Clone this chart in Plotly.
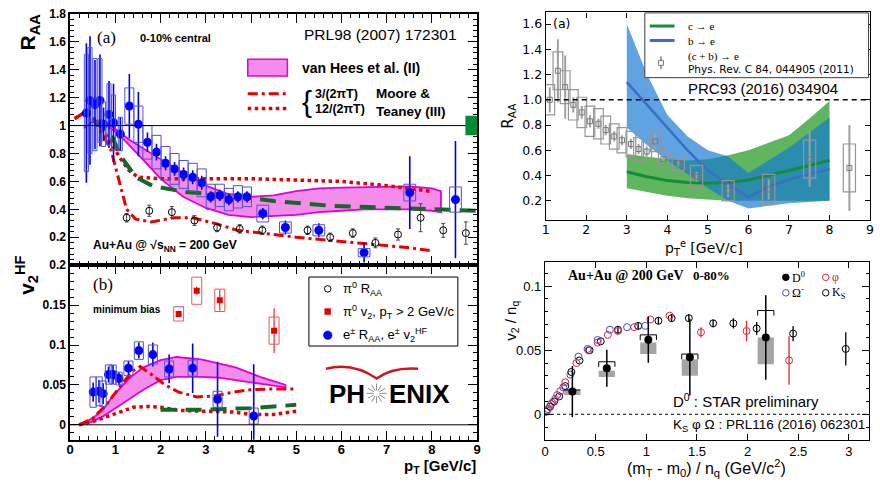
import math
import plotly.graph_objects as go

W, H = 880, 484
def px(x): return x / W
def py(y): return 1 - y / H

SANS = "Liberation Sans, Arial, sans-serif"
SERIF = "Liberation Serif, Times New Roman, serif"
DJV = "DejaVu Sans, sans-serif"

# ---------------- (a) R_AA  PRL98 (2007) 172301 ----------------
e_pt   = [0.36,0.44,0.55,0.66,0.74,0.86,0.96,1.11,1.31,1.51,1.71,1.91,2.11,2.31,2.51,2.71,2.91,3.11,3.31,3.51,3.71,3.91,4.26,4.76,5.50,6.50,7.51,8.52]
e_raa  = [1.09,1.18,1.15,1.18,1.01,1.08,1.02,0.94,1.14,1.01,0.88,0.81,0.73,0.69,0.65,0.63,0.59,0.49,0.50,0.47,0.49,0.49,0.37,0.27,0.25,0.09,0.52,0.47]
e_stat = [0.50,0.46,0.32,0.33,0.12,0.24,0.28,0.12,0.23,0.23,0.07,0.06,0.05,0.05,0.05,0.05,0.05,0.04,0.04,0.04,0.04,0.04,0.04,0.05,0.05,0.07,0.26,0.42]
e_sys  = [0.42,0.38,0.33,0.30,0.16,0.22,0.20,0.12,0.13,0.13,0.12,0.12,0.12,0.11,0.10,0.10,0.10,0.09,0.08,0.08,0.08,0.07,0.06,0.04,0.04,0.03,0.06,0.09]

pi0_pt  = [1.25,1.75,2.25,2.75,3.25,3.75,4.25,5.25,5.75,6.25,6.75,7.25,7.75,8.25,8.75]
pi0_raa = [0.34,0.39,0.38,0.32,0.27,0.26,0.25,0.25,0.20,0.23,0.16,0.22,0.34,0.25,0.23]
pi0_err = [0.03,0.04,0.04,0.035,0.03,0.03,0.03,0.03,0.03,0.03,0.035,0.04,0.10,0.05,0.08]

vh_pt = [0.3,0.5,0.7,0.9,1.1,1.3,1.6,2.0,2.5,3.0,3.5,4.0,4.5,5.0,5.5,6.0,6.5,7.0,7.5,8.0,8.2]
vh_hi = [0.98,1.03,1.04,1.00,0.95,0.90,0.84,0.76,0.66,0.57,0.51,0.49,0.50,0.53,0.55,0.555,0.56,0.565,0.565,0.55,0.53]
vh_lo = [0.98,1.03,1.03,0.98,0.93,0.86,0.76,0.62,0.49,0.41,0.36,0.345,0.35,0.36,0.38,0.39,0.40,0.40,0.40,0.39,0.38]

mt3_pt  = [0.1,0.3,0.5,0.7,0.9,1.1,1.25,1.45,1.8,2.3,2.7,3.2,3.7,4.5,5.0,6.5,7.5,7.95]
mt3_raa = [1.05,1.09,1.05,0.95,0.83,0.58,0.40,0.33,0.31,0.34,0.34,0.30,0.25,0.22,0.20,0.155,0.125,0.105]
mt12_pt  = [0.1,0.3,0.5,0.7,0.9,1.1,1.3,1.5,2.0,3.0,4.0,5.0,6.0,7.0,7.5,7.95]
mt12_raa = [1.05,1.09,1.06,0.98,0.88,0.77,0.68,0.63,0.62,0.62,0.62,0.61,0.60,0.57,0.55,0.53]
gr_pt  = [0.5,0.7,0.95,1.1,1.3,1.46,1.83,2.56,3.66,4.5,5.78,7.0,7.97,9.0]
gr_raa = [1.04,0.99,0.91,0.79,0.70,0.63,0.567,0.524,0.496,0.46,0.425,0.41,0.397,0.39]
norm_box = [8.74, 9.0, 0.93, 1.07]

# ---------------- (b) v2 ----------------
v2e_pt   = [0.51,0.64,0.73,0.85,0.95,1.08,1.29,1.52,1.83,2.19,2.71,3.26,4.06]
v2e      = [0.041,0.042,0.039,0.063,0.063,0.058,0.071,0.093,0.088,0.070,0.071,0.032,0.011]
v2e_stat = [0.012,0.014,0.013,0.010,0.012,0.008,0.009,0.010,0.015,0.018,0.031,0.047,0.065]
v2e_sys  = [0.019,0.018,0.016,0.012,0.012,0.008,0.009,0.011,0.012,0.010,0.010,0.010,0.010]

v2pi_pt   = [2.40,2.80,3.31,4.51]
v2pi      = [0.139,0.168,0.156,0.118]
v2pi_stat = [0.004,0.005,0.013,0.028]
v2pi_sys  = [0.009,0.017,0.014,0.017]

vhb_pt = [0.2,0.5,0.74,0.96,1.3,1.62,2.0,2.35,2.9,3.3,3.66,4.2,4.76]
vhb_hi = [0.0,0.008,0.02,0.037,0.058,0.072,0.081,0.085,0.082,0.077,0.072,0.060,0.050]
vhb_lo = [0.0,0.004,0.011,0.020,0.032,0.044,0.056,0.060,0.060,0.059,0.056,0.052,0.047]
mtb3_pt = [0.2,0.5,0.8,1.0,1.2,1.4,1.55,1.8,2.1,2.4,2.8,3.2,3.6,4.0,4.5,5.0]
mtb3    = [0.0,0.008,0.025,0.040,0.055,0.068,0.073,0.063,0.050,0.041,0.035,0.036,0.041,0.044,0.045,0.045]
mtb12_pt = [0.2,0.5,0.8,1.1,1.4,1.7,2.0,2.4,2.8,3.2,3.6,4.0,4.5,5.0]
mtb12    = [0.0,0.004,0.010,0.016,0.022,0.023,0.022,0.018,0.017,0.017,0.016,0.013,0.013,0.017]
grb_pt = [2.0,3.0,4.0,5.0]
grb    = [0.019,0.019,0.021,0.025]

# ---------------- top right: PRC93 (2016) 034904 ----------------
hf_pt   = [1.10,1.30,1.48,1.68,1.89,2.09,2.30,2.48,2.69,2.88,3.10,3.29,3.49,3.70,3.90,4.27,4.72,5.50,6.50,7.51,8.49]
hf_raa  = [1.00,1.23,1.10,0.96,0.90,0.83,0.81,0.76,0.71,0.68,0.65,0.61,0.59,0.67,0.53,0.50,0.39,0.28,0.29,0.53,0.46]
hf_stat = [0.10,0.25,0.25,0.06,0.05,0.05,0.04,0.04,0.04,0.04,0.04,0.04,0.04,0.06,0.03,0.03,0.04,0.05,0.08,0.22,0.34]
hf_sys  = [0.12,0.15,0.13,0.12,0.12,0.12,0.12,0.11,0.10,0.10,0.10,0.09,0.08,0.08,0.07,0.06,0.09,0.08,0.12,0.15,0.19]

th_pt = [3.0,3.5,4.0,4.5,5.0,5.5,6.0,6.5,7.0,7.5,8.0]
c_hi  = [0.57,0.55,0.53,0.52,0.53,0.56,0.60,0.66,0.72,0.85,0.99]
c_lo  = [0.30,0.27,0.24,0.22,0.21,0.20,0.20,0.20,0.20,0.20,0.20]
c_mid = [0.43,0.39,0.36,0.345,0.34,0.345,0.365,0.40,0.44,0.48,0.52]
b_hi  = [1.60,1.20,0.88,0.71,0.60,0.55,0.42,0.52,0.62,0.74,0.86]
b_lo  = [0.78,0.64,0.52,0.41,0.30,0.20,0.14,0.16,0.18,0.19,0.20]
b_mid = [1.14,0.96,0.78,0.60,0.44,0.33,0.23,0.31,0.37,0.41,0.45]

# ---------------- bottom right: v2/nq ----------------
d0_x  = [0.27,0.61,1.02,1.43,2.18]
d0_y  = [0.0177,0.0359,0.0582,0.0446,0.060]
d0_err = [0.020,0.0145,0.018,0.030,0.033]
d0_lo = [0.015,0.029,0.047,0.030,0.039]
d0_hi = [0.019,0.034,0.056,0.043,0.060]
d0_cap = [0.019,0.041,0.062,0.047,0.081]

phi_x = [0.02,0.06,0.10,0.15,0.20,0.31,0.43,0.52,0.62,0.72,0.88,1.04,1.23,1.54,1.99,2.41]
phi_y = [0.003,0.008,0.012,0.018,0.025,0.040,0.050,0.056,0.062,0.065,0.068,0.074,0.077,0.064,0.065,0.042]
phi_err = [0,0,0,0,0,0,0,0,0,0,0,0,0,0.004,0.008,0.019]
om_x = [0.03,0.07,0.12,0.18,0.25,0.33,0.42,0.52,0.64,0.81,0.99]
om_y = [0.004,0.009,0.015,0.021,0.031,0.045,0.051,0.058,0.066,0.068,0.069]
ks_x = [0.01,0.05,0.09,0.14,0.20,0.26,0.34,0.44,0.55,0.72,0.92,1.12,1.25,1.42,1.66,1.86,2.09,2.45,2.97]
ks_y = [0.002,0.006,0.010,0.014,0.022,0.033,0.042,0.050,0.057,0.066,0.069,0.073,0.075,0.075,0.071,0.071,0.067,0.063,0.051]
ks_err = [0,0,0,0,0,0,0,0,0,0.003,0.003,0.003,0.003,0.003,0.003,0.004,0.005,0.006,0.013]

MAG_FILL = "rgb(244,140,236)"
MAG_LINE = "rgb(225,0,215)"
RED = "rgb(230,0,0)"
DGREEN = "rgb(20,105,40)"

fig = go.Figure()
shapes = []
ann = []

def band(xs, hi, lo, xa, ya, fill, line=None, lw=0):
    fig.add_trace(go.Scatter(x=xs + xs[::-1], y=hi + lo[::-1], xaxis=xa, yaxis=ya,
                             fill="toself", fillcolor=fill, mode="lines",
                             line=dict(color=line or fill, width=lw), hoverinfo="skip"))

def line(xs, ys, xa, ya, color, width, dash="solid"):
    fig.add_trace(go.Scatter(x=xs, y=ys, xaxis=xa, yaxis=ya, mode="lines",
                             line=dict(color=color, width=width, dash=dash), hoverinfo="skip"))

def boxes(xs, ys, sys, xr, yr, hwf, color, width=1, fill="rgba(0,0,0,0)", layer="above"):
    for x, y, s in zip(xs, ys, sys):
        hw = hwf(x)
        shapes.append(dict(type="rect", xref=xr, yref=yr, x0=x - hw, x1=x + hw, y0=y - s, y1=y + s,
                           line=dict(color=color, width=width), fillcolor=fill, layer=layer))

# ---- panel (a)
band(vh_pt, vh_hi, vh_lo, "x", "y", MAG_FILL, MAG_LINE, 1.8)
line(mt12_pt, mt12_raa, "x", "y", RED, 3.5, "dot")
line(mt3_pt, mt3_raa, "x", "y", RED, 3, "10px,4px,3px,4px")
line(gr_pt, gr_raa, "x", "y", DGREEN, 4, "16px,9px")
fig.add_trace(go.Scatter(x=pi0_pt, y=pi0_raa, xaxis="x", yaxis="y", mode="markers",
                         marker=dict(symbol="circle-open", size=7, color="black", line=dict(width=1)),
                         error_y=dict(type="data", array=pi0_err, color="rgb(70,70,70)", thickness=1, width=2)))
fig.add_trace(go.Scatter(x=e_pt, y=e_raa, xaxis="x", yaxis="y", mode="markers",
                         marker=dict(symbol="circle", size=9, color="rgb(0,0,255)"),
                         error_y=dict(type="data", array=e_stat, color="rgb(0,0,230)", thickness=1.6, width=0)))
boxes(e_pt, e_raa, e_sys, "x", "y", lambda x: 0.045 if x < 1.2 else (0.1 if x < 4 else 0.13),
      "rgb(80,80,225)", 1)
shapes.append(dict(type="line", xref="x", yref="y", x0=0, x1=9, y0=1, y1=1,
                   line=dict(color="black", width=1)))
shapes.append(dict(type="rect", xref="x", yref="y", x0=norm_box[0], x1=norm_box[1],
                   y0=norm_box[2], y1=norm_box[3], fillcolor="rgb(0,140,50)", line=dict(width=0)))

# ---- panel (b)
band(vhb_pt, vhb_hi, vhb_lo, "x2", "y2", MAG_FILL, MAG_LINE, 1.8)
line(mtb3_pt, mtb3, "x2", "y2", RED, 3, "10px,4px,3px,4px")
line(mtb12_pt, mtb12, "x2", "y2", RED, 3.5, "dot")
line(grb_pt, grb, "x2", "y2", DGREEN, 4, "16px,9px")
fig.add_trace(go.Scatter(x=v2e_pt, y=v2e, xaxis="x2", yaxis="y2", mode="markers",
                         marker=dict(symbol="circle", size=9, color="rgb(0,0,255)"),
                         error_y=dict(type="data", array=v2e_stat, color="rgb(0,0,230)", thickness=1.6, width=0)))
boxes(v2e_pt, v2e, v2e_sys, "x2", "y2", lambda x: 0.07 if x < 1.2 else 0.1, "rgb(80,80,225)", 1)
fig.add_trace(go.Scatter(x=v2pi_pt, y=v2pi, xaxis="x2", yaxis="y2", mode="markers",
                         marker=dict(symbol="square", size=6, color="rgb(230,0,0)"),
                         error_y=dict(type="data", array=v2pi_stat, color="rgb(230,0,0)", thickness=1, width=0)))
boxes(v2pi_pt, v2pi, v2pi_sys, "x2", "y2", lambda x: 0.11, "rgb(230,90,90)", 1)
shapes.append(dict(type="line", xref="x2", yref="y2", x0=0, x1=9, y0=0, y1=0,
                   line=dict(color="black", width=1)))

# ---- top right
band(th_pt, c_hi, c_lo, "x3", "y3", "rgb(95,182,95)")
band(th_pt, b_hi, b_lo, "x3", "y3", "rgba(20,120,212,0.68)")
line(th_pt, c_mid, "x3", "y3", "rgb(20,140,60)", 3)
line(th_pt, b_mid, "x3", "y3", "rgb(60,110,200)", 2.5)
fig.add_trace(go.Scatter(x=hf_pt, y=hf_raa, xaxis="x3", yaxis="y3", mode="markers",
                         marker=dict(symbol="square-open", size=5, color="rgb(120,120,120)", line=dict(width=1)),
                         error_y=dict(type="data", array=hf_stat, color="rgb(160,160,160)", thickness=2, width=0)))
boxes(hf_pt, hf_raa, hf_sys, "x3", "y3", lambda x: 0.12 if x < 4 else 0.15, "rgb(150,150,150)", 1.2)
shapes.append(dict(type="line", xref="x3", yref="y3", x0=1, x1=9, y0=1, y1=1,
                   line=dict(color="black", width=1.5, dash="5px,4px")))

# ---- bottom right
for lo, hi, x in zip(d0_lo, d0_hi, d0_x):
    shapes.append(dict(type="rect", xref="x4", yref="y4", x0=x - 0.08, x1=x + 0.08, y0=lo, y1=hi,
                       fillcolor="rgb(165,165,165)", line=dict(width=0), layer="below"))
for cap, hi, x in zip(d0_cap, d0_hi, d0_x):
    leg = min(cap - hi, 0.004)
    shapes.append(dict(type="path", xref="x4", yref="y4",
                       path=f"M {x-0.08},{cap-leg} L {x-0.08},{cap} L {x+0.08},{cap} L {x+0.08},{cap-leg}",
                       line=dict(color="black", width=1)))
shapes.append(dict(type="line", xref="x4", yref="y4", x0=0, x1=3.2, y0=0, y1=0,
                   line=dict(color="black", width=1, dash="dot")))
fig.add_trace(go.Scatter(x=ks_x, y=ks_y, xaxis="x4", yaxis="y4", mode="markers",
                         marker=dict(symbol="circle-open", size=7, color="black", line=dict(width=1)),
                         error_y=dict(type="data", array=ks_err, color="black", thickness=1.3, width=0)))
fig.add_trace(go.Scatter(x=om_x, y=om_y, xaxis="x4", yaxis="y4", mode="markers",
                         marker=dict(symbol="circle-open", size=7, color="rgb(70,70,220)", line=dict(width=1))))
fig.add_trace(go.Scatter(x=phi_x, y=phi_y, xaxis="x4", yaxis="y4", mode="markers",
                         marker=dict(symbol="circle-open", size=7, color="rgb(220,40,60)", line=dict(width=1)),
                         error_y=dict(type="data", array=phi_err, color="rgb(220,40,60)", thickness=1.3, width=0)))
fig.add_trace(go.Scatter(x=d0_x, y=d0_y, xaxis="x4", yaxis="y4", mode="markers",
                         marker=dict(symbol="circle", size=8, color="black"),
                         error_y=dict(type="data", array=d0_err, color="black", thickness=1.5, width=0)))

# ---------------- legends / labels (paper coords) ----------------
def text(x, y, t, size, family=SANS, bold=False, xanchor="left", color="black", angle=0, yanchor="middle"):
    ann.append(dict(x=px(x), y=py(y), xref="paper", yref="paper", text=t, showarrow=False,
                    xanchor=xanchor, yanchor=yanchor, textangle=angle,
                    font=dict(family=family, size=size, color=color, weight="bold" if bold else "normal")))

def pline(x0, y0, x1, y1, color, width, dash="solid"):
    shapes.append(dict(type="line", xref="paper", yref="paper", x0=px(x0), y0=py(y0), x1=px(x1), y1=py(y1),
                       line=dict(color=color, width=width, dash=dash)))

def prect(x0, y0, x1, y1, fill, lcolor, lw):
    shapes.append(dict(type="rect", xref="paper", yref="paper", x0=px(x0), y0=py(y1), x1=px(x1), y1=py(y0),
                       fillcolor=fill, line=dict(color=lcolor, width=lw)))

def pcircle(x, y, r, fill, lcolor, lw=1):
    shapes.append(dict(type="circle", xref="paper", yref="paper", x0=px(x - r), x1=px(x + r),
                       y0=py(y + r), y1=py(y - r), fillcolor=fill, line=dict(color=lcolor, width=lw)))

# panel (a) texts
text(25, 25, "R<sub>AA</sub>", 21, bold=True, xanchor="center", angle=-90)
text(92, 31, "(a)", 17, SERIF)
text(135, 31, "0-10% central", 11, bold=True)
text(380, 28, "PRL98 (2007) 172301", 15.5, xanchor="center")
prect(246, 53, 286, 70, MAG_FILL, MAG_LINE, 1.5)
text(299, 62, "van Hees et al. (II)", 14, bold=True)
pline(246, 88, 286, 88, RED, 3, "10px,4px,3px,4px")
pline(246, 103, 286, 103, RED, 3.5, "dot")
text(306, 96, "{", 30, SANS, xanchor="center")
text(312, 88, "3/(2πT)", 12.5, bold=True)
text(312, 104, "12/(2πT)", 12.5, bold=True)
text(373, 88, "Moore &", 13.5, bold=True)
text(373, 106, "Teaney (III)", 13.5, bold=True)
text(88, 243, "Au+Au @ √s<sub>NN</sub> = 200 GeV", 12, bold=True)

# panel (b) texts
text(22, 272, "v<sub>2</sub><sup>HF</sup>", 21, bold=True, xanchor="center", angle=-90)
text(88, 282, "(b)", 17, SERIF)
text(88, 307, "minimum bias", 10, bold=True)
prect(307.7, 274, 458, 344, "white", "black", 1)
pcircle(326.7, 286, 3.3, "white", "black", 1)
prect(323.7, 306, 329.7, 312, "rgb(230,0,0)", "rgb(230,0,0)", 0.5)
pcircle(326.7, 333, 4.3, "rgb(0,0,255)", "rgb(0,0,255)", 0.5)
text(340, 286, "π<sup>0</sup> R<sub>AA</sub>", 13)
text(340, 309, "π<sup>0</sup> v<sub>2</sub>, p<sub>T</sub> > 2 GeV/c", 13)
text(340, 333, "e<sup>±</sup> R<sub>AA</sub>, e<sup>±</sup> v<sub>2</sub><sup>HF</sup>", 13)
text(478, 466, "p<sub>T</sub> [GeV/c]", 15, bold=True, xanchor="right")
# PHENIX logo
text(346.5, 393, "PH", 26, bold=True, xanchor="center")
text(419, 393, "ENIX", 26, bold=True, xanchor="center")
for k in range(12):
    a = k * math.pi / 6
    pline(376 + 3 * math.cos(a), 392 + 3 * math.sin(a), 376 + 10 * math.cos(a), 392 + 10 * math.sin(a),
          "rgb(140,140,140)", 1)
shapes.append(dict(type="path", xref="paper", yref="paper",
                   path=f"M {px(325)},{py(367)} Q {px(352)},{py(360)} {px(376)},{py(377)} "
                        f"Q {px(392)},{py(365)} {px(418)},{py(367)}",
                   line=dict(color="rgb(210,20,30)", width=2.5)))

# top right texts
text(509, 110, "R<sub>AA</sub>", 15, DJV, xanchor="center", angle=-90)
text(706, 245, "p<sub>T</sub><sup>e</sup> [GeV/c]", 14, DJV, xanchor="center")
text(552, 17, "(a)", 12.5, DJV)
prect(646.7, 6, 872.5, 71.7, "white", "rgb(60,60,60)", 1)
pline(651.7, 19.3, 676.7, 19.3, "rgb(20,140,60)", 3)
pline(651.7, 34, 676.7, 34, "rgb(60,110,200)", 3)
pline(663, 50, 663, 63, "rgb(160,160,160)", 2)
prect(660.5, 54.2, 665.5, 59.2, "white", "rgb(120,120,120)", 1)
text(688, 19.3, "c → e", 11, SERIF)
text(688, 34, "b → e", 11, SERIF)
text(688, 50, "(c + b) → e", 11, SERIF)
text(688, 63, "Phys. Rev. C 84, 044905 (2011)", 10.5, DJV)
text(688, 83, "PRC93 (2016) 034904", 15, SANS)

# bottom right texts
text(512, 318, "v<sub>2</sub> / n<sub>q</sub>", 15, SANS, xanchor="center", angle=-90)
text(709, 468, "(m<sub>T</sub> - m<sub>0</sub>) / n<sub>q</sub> (GeV/c<sup>2</sup>)", 16, SANS, xanchor="center")
text(567, 272, "Au+Au @ 200 GeV", 14, SERIF, bold=True)
text(693, 272, "0-80%", 13, SERIF, bold=True)
pcircle(789, 274.3, 3.3, "black", "black", 1)
pcircle(829.3, 274.3, 3.3, "white", "rgb(220,40,60)", 1)
pcircle(789, 290, 3.3, "white", "rgb(70,70,220)", 1)
pcircle(829.3, 290, 3.3, "white", "black", 1)
text(793.5, 274.3, "D<sup>0</sup>", 12, SERIF)
text(834, 274.3, "φ", 12, SERIF, color="rgb(200,40,60)")
text(793.5, 290, "Ω<sup>-</sup>", 12, SERIF)
text(834, 290, "K<sub>S</sub>", 12, SERIF)
text(673, 399, "D<sup>0</sup> : STAR preliminary", 15, SANS)
text(673, 425, "K<sub>S</sub> φ Ω : PRL116 (2016) 062301", 13.5, SANS)

# ---------------- axes ----------------
def axis(**kw):
    base = dict(showline=True, linecolor="black", mirror="ticks", ticks="inside", showgrid=False,
                zeroline=False, tickcolor="black", fixedrange=True)
    base.update(kw)
    return base

LX = [px(66.7), px(477.5)]
bold12 = dict(family=SANS, size=12, color="black", weight="bold")
fig.update_layout(
    width=W, height=H, margin=dict(l=0, r=0, t=0, b=0), showlegend=False,
    paper_bgcolor="white", plot_bgcolor="white",
    xaxis=axis(domain=LX, range=[0, 9], anchor="y", showticklabels=False, dtick=1, tick0=0, ticklen=9,
               linewidth=1.5, minor=dict(ticks="inside", dtick=0.2, ticklen=4, tickcolor="black")),
    yaxis=axis(domain=[py(262), py(7)], range=[0, 1.8], anchor="x",
               tickvals=[0.2, 0.4, 0.6, 0.8, 1.0, 1.2, 1.4, 1.6, 1.8], ticktext=["0.2", "0.4", "0.6", "0.8", "1", "1.2", "1.4", "1.6", "1.8"],
               ticklen=9, linewidth=1.5, tickfont=bold12,
               minor=dict(ticks="inside", dtick=0.04, tick0=0, ticklen=4, tickcolor="black")),
    xaxis2=axis(domain=LX, range=[0, 9], anchor="y2", dtick=1, tick0=0, ticklen=9, linewidth=1.5,
                tickfont=dict(family=SANS, size=13, color="black", weight="bold"), ticklabelstandoff=-3,
                minor=dict(ticks="inside", dtick=0.2, ticklen=4, tickcolor="black")),
    yaxis2=axis(domain=[py(439), py(262)], range=[-0.0186, 0.2], anchor="x2",
                tickvals=[0, 0.05, 0.1, 0.15, 0.2], ticktext=["0", "0.05", "0.1", "0.15", "0.2"],
                ticklen=9, linewidth=1.5, tickfont=bold12,
                minor=dict(ticks="inside", dtick=0.01, tick0=0, ticklen=4, tickcolor="black")),
    xaxis3=axis(domain=[px(546.7), px(874)], range=[1, 9], anchor="y3", dtick=1, tick0=1, ticklen=5,
                linewidth=1.2, tickfont=dict(family=DJV, size=12.5, color="black"), ticklabelstandoff=-2),
    yaxis3=axis(domain=[py(216), py(5.5)], range=[0.049, 1.692], anchor="x3",
                tickvals=[0.2, 0.4, 0.6, 0.8, 1.0, 1.2, 1.4, 1.6], tickformat=".1f", ticklen=5,
                linewidth=1.2, tickfont=dict(family=DJV, size=12.5, color="black")),
    xaxis4=axis(domain=[px(546), px(873)], range=[0, 3.2], anchor="y4",
                tickvals=[0, 0.5, 1, 1.5, 2, 2.5, 3], ticktext=["0", "0.5", "1", "1.5", "2", "2.5", "3"],
                ticklen=6, linewidth=1.2, tickfont=dict(family=SANS, size=13, color="black")),
    yaxis4=axis(domain=[py(439), py(258.3)], range=[-0.0198, 0.1192], anchor="x4",
                tickvals=[0, 0.05, 0.1], ticktext=["0", "0.05", "0.1"], ticklen=7, linewidth=1.2,
                tickfont=dict(family=SANS, size=13, color="black"),
                minor=dict(ticks="inside", dtick=0.01, tick0=0, ticklen=3, tickcolor="black")),
    shapes=shapes, annotations=ann,
)

fig.write_html("out.html")
